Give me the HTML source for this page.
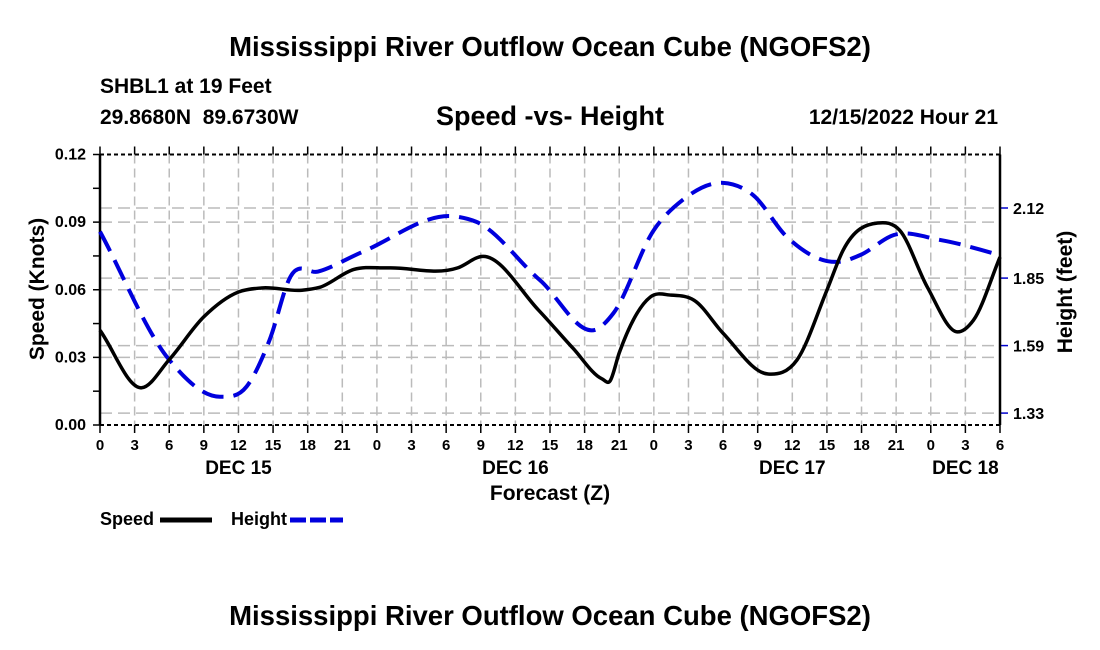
<!DOCTYPE html>
<html><head><meta charset="utf-8"><style>
html,body{margin:0;padding:0;background:#fff;}
svg{display:block;font-family:"Liberation Sans",Arial,sans-serif;}
</style></head><body>
<svg id="chart" width="1100" height="650" viewBox="0 0 1100 650">
<text x="550" y="56" text-anchor="middle" font-size="27.5" font-weight="bold">Mississippi River Outflow Ocean Cube (NGOFS2)</text>
<text x="100" y="93" font-size="21" font-weight="bold">SHBL1 at 19 Feet</text>
<text x="100" y="124" font-size="21" font-weight="bold" xml:space="preserve">29.8680N  89.6730W</text>
<text x="550" y="125" text-anchor="middle" font-size="27" font-weight="bold">Speed -vs- Height</text>
<text x="998" y="124" text-anchor="end" font-size="21" font-weight="bold">12/15/2022 Hour 21</text>
<g id="grid"></g>
<g id="axes"></g>
<g id="series"></g>
<text x="550" y="500" text-anchor="middle" font-size="21" font-weight="bold">Forecast (Z)</text>
<text transform="translate(44,289) rotate(-90)" text-anchor="middle" font-size="21" font-weight="bold">Speed (Knots)</text>
<text transform="translate(1072,292) rotate(-90)" text-anchor="middle" font-size="21" font-weight="bold">Height (feet)</text>
<g>
<text x="100" y="525" font-size="18" font-weight="bold">Speed</text>
<line x1="160" y1="520" x2="212" y2="520" stroke="#000" stroke-width="5"/>
<text x="231" y="525" font-size="18" font-weight="bold">Height</text>
<line x1="290" y1="520" x2="343" y2="520" stroke="#0000dd" stroke-width="5" stroke-dasharray="16,4"/>
</g>
<text x="550" y="625" text-anchor="middle" font-size="27.5" font-weight="bold">Mississippi River Outflow Ocean Cube (NGOFS2)</text>
</svg>
<script>
const xTickLabels=["0","3","6","9","12","15","18","21","0","3","6","9","12","15","18","21","0","3","6","9","12","15","18","21","0","3","6"];
const dateLabels=["DEC 15","DEC 16","DEC 17","DEC 18"];
const dateHours=[12,36,60,75];
const speedTicks=[0,0.03,0.06,0.09,0.12];
const speedTickLabels=["0.00","0.03","0.06","0.09","0.12"];
const heightTicks=[1.33,1.59,1.85,2.12];
const heightTickLabels=["1.33","1.59","1.85","2.12"];
const speedHours=[0,3.6,6,9,12,14,17.5,19,22,25,31,33.2,38,41,43.5,44.2,45,47.7,49.5,51.5,54,57.9,60.4,63,64.4,67.4,69.3,71.7,74.3,75.7,78];
const speedValues=[0.042,0.0165,0.029,0.048,0.059,0.0608,0.0598,0.061,0.069,0.0697,0.0697,0.0748,0.051,0.034,0.0205,0.0195,0.032,0.0568,0.0576,0.0553,0.0407,0.0226,0.0288,0.0598,0.0775,0.0896,0.0864,0.0612,0.0413,0.0465,0.0745];
const heightHours=[0,6,10.4,12.7,14.7,16.5,18.9,22.8,30.9,32.6,38.1,43.3,44.5,48,50.5,54,56.6,59.5,64.1,65.9,68.8,72.8,78];
const heightValues=[2.029,1.535,1.393,1.432,1.612,1.855,1.875,1.952,2.087,2.067,1.843,1.659,1.715,2.035,2.151,2.217,2.17,2.01,1.913,1.939,2.016,1.997,1.939];

const L=100,R=1000,T=154.5,B=425;
const NS="http://www.w3.org/2000/svg";
const xS=h=>L+h/78*(R-L);
const yS=v=>B-v/0.12*(B-T);
const yH=h=>208+(2.12-h)*259.6;
function mk(tag,attrs,parent){const e=document.createElementNS(NS,tag);for(const k in attrs)e.setAttribute(k,attrs[k]);parent.appendChild(e);return e;}
const grid=document.getElementById('grid'),axes=document.getElementById('axes'),series=document.getElementById('series');
for(let i=0;i<xTickLabels.length;i++){
  const x=xS(i*3);
  if(i>0&&i<xTickLabels.length-1){const g=mk('line',{x1:x,y1:T,x2:x,y2:B,stroke:'#bbb','stroke-width':1.5,'stroke-dasharray':'9,5'},grid);
  
  }
  const t1=mk('line',{x1:x,y1:T-8,x2:x,y2:T,stroke:'#000','stroke-width':1.5},axes);
  
  
  const t2=mk('line',{x1:x,y1:B,x2:x,y2:B+8,stroke:'#000','stroke-width':1.5},axes);
  
  
  const tl=mk('text',{x:x,y:450,'text-anchor':'middle','font-size':15,'font-weight':'bold'},axes);
  tl.textContent=xTickLabels[i];
  
  
}
dateLabels.forEach((d,i)=>{const t=mk('text',{x:xS(dateHours[i]),y:474,'text-anchor':'middle','font-size':19,'font-weight':'bold'},axes);t.textContent=d;
  
  });
speedTicks.forEach((v,i)=>{const y=yS(v);
  if(i>0&&i<speedTicks.length-1){const g=mk('line',{x1:L,y1:y,x2:R,y2:y,stroke:'#bbb','stroke-width':1.5,'stroke-dasharray':'12,6'},grid);
  
  }
  const t=mk('text',{x:86,y:y+5,'text-anchor':'end','font-size':16,'font-weight':'bold'},axes);t.textContent=speedTickLabels[i];
  
  });
for(let v=0;v<=0.1201;v+=0.015){const y=yS(v);const tk=mk('line',{x1:L-7,y1:y,x2:L,y2:y,stroke:'#000','stroke-width':1.5},axes);
  
  }
heightTicks.forEach((h,i)=>{const y=yH(h);
  const g=mk('line',{x1:L,y1:y,x2:R,y2:y,stroke:'#bbb','stroke-width':1.5,'stroke-dasharray':'12,6'},grid);
  
  
  const tk=mk('line',{x1:R,y1:y,x2:R+8,y2:y,stroke:'#0000cc','stroke-width':1.5},axes);
  
  
  const t=mk('text',{x:1013,y:y+6,'font-size':16,'font-weight':'bold'},axes);t.textContent=heightTickLabels[i];
  
  });
const fl=mk('line',{x1:L,y1:T,x2:L,y2:B,stroke:'#000','stroke-width':2.5},axes);


const fr=mk('line',{x1:R,y1:T,x2:R,y2:B,stroke:'#000','stroke-width':2.5},axes);


const ft=mk('line',{x1:L,y1:T,x2:R,y2:T,stroke:'#000','stroke-width':2,'stroke-dasharray':'4,3'},axes);


const fb=mk('line',{x1:L,y1:B,x2:R,y2:B,stroke:'#000','stroke-width':2,'stroke-dasharray':'4,3'},axes);


function path(pts){
  const n=pts.length,s=[],m=[];
  for(let i=0;i<n-1;i++)s.push((pts[i+1][1]-pts[i][1])/(pts[i+1][0]-pts[i][0]));
  for(let i=0;i<n;i++){
    if(i===0)m.push(s[0]);else if(i===n-1)m.push(s[n-2]);
    else{const h0=pts[i][0]-pts[i-1][0],h1=pts[i+1][0]-pts[i][0];m.push((s[i-1]*h1+s[i]*h0)/(h0+h1));}
  }
  let d='M'+pts[0][0]+','+pts[0][1];
  for(let i=0;i<n-1;i++){const dx=(pts[i+1][0]-pts[i][0])/3;
    d+=' C'+(pts[i][0]+dx)+','+(pts[i][1]+m[i]*dx)+' '+(pts[i+1][0]-dx)+','+(pts[i+1][1]-m[i+1]*dx)+' '+pts[i+1][0]+','+pts[i+1][1];}
  return d;}
const hp=mk('path',{d:path(heightHours.map((h,i)=>[xS(h),yH(heightValues[i])])),fill:'none',stroke:'#0000dd','stroke-width':4,'stroke-dasharray':'22,10'},series);


const sp=mk('path',{d:path(speedHours.map((h,i)=>[xS(h),yS(speedValues[i])])),fill:'none',stroke:'#000','stroke-width':3.5},series);


</script>
</body></html>
